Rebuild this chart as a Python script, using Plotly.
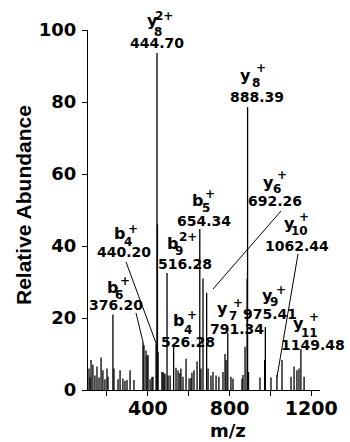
import plotly.graph_objects as go

# ---------------- data ----------------
mz = [112, 117, 122, 131, 141, 151, 161, 171, 180, 190, 200, 205, 229, 234, 254, 264, 278, 288,
      298, 313, 332, 376.2, 381, 391, 396, 401, 411, 420, 425, 440.2, 444.7, 447, 450,
      469, 474, 479, 484, 494, 499, 509, 526.28, 538, 548, 557, 562, 572, 587, 602, 611,
      616, 626, 641, 654.34, 660, 670, 688, 695, 709, 719, 734, 748, 768, 778, 783,
      791.34, 807, 817, 861, 866, 876, 886, 888.39, 893, 949, 972, 975.41, 1003, 1032,
      1057, 1101, 1116, 1130, 1140, 1149.48, 1165]
intensity = [6, 3.5, 8.3, 7, 4, 6.5, 3.5, 9, 5.5, 3, 6, 3.7, 21, 6, 3, 5.5, 3.2, 2.5,
             2.8, 5.5, 2.8, 13.3, 12.5, 11, 9.5, 9.7, 3, 3.6, 3.7, 13, 93.6, 46, 10.6,
             5, 5, 4.6, 4.5, 32.5, 4, 4, 12.5, 6.2, 5.4, 4.7, 6, 3.7, 8.7, 3.2, 3.3,
             4.8, 5.5, 8, 44.7, 6, 31, 27, 6, 4, 5, 4, 3.7, 5, 10, 8.3,
             15.8, 3.7, 3.2, 3.2, 4.2, 12, 31, 78.6, 5, 3.5, 8.3, 17.5, 3.5, 4.2,
             8.3, 3.7, 6.5, 5.5, 6, 11.4, 3.7]

label_ion = ["y", "y", "b", "b", "b", "y", "y", "y", "y", "y", "b", "b"]
label_sub = ["8", "8", "4", "5", "9", "6", "10", "7", "9", "11", "4", "6"]
label_sup = ["2+", "+", "+", "+", "2+", "+", "+", "+", "+", "+", "+", "+"]
label_mass = ["444.70", "888.39", "440.20", "654.34", "516.28", "692.26", "1062.44",
              "791.34", "975.41", "1149.48", "526.28", "376.20"]

x_tickvals = [200, 400, 600, 800, 1000, 1200]
x_ticktext = ["", "400", "", "800", "", "1200"]
y_tickvals = [0, 20, 40, 60, 80, 100]
y_ticktext = ["0", "20", "40", "60", "80", "100"]

# ---------------- layout / style ----------------
L, T, W, H = 88, 30, 232, 360
FIG_W, FIG_H = 350, 442
FONT = "DejaVu Sans"

# label placement (pixel centres in the figure)
pos_letter = [(152, 20), (245, 75), (119, 233), (197, 200), (172, 243), (268, 182),
              (289, 223), (222, 308), (267, 295), (298, 323), (178, 320), (112, 287)]
pos_sup = [(164, 16), (261, 68), (133, 229), (210, 194), (188, 237), (282, 175),
           (304, 217), (238, 303), (281, 290), (314, 317), (192, 315), (125, 281)]
pos_sub = [(158, 32), (256, 83), (128, 242), (206, 208), (179, 251), (277, 189),
           (299, 231), (233, 316), (274, 302), (309, 333), (188, 330), (119, 295)]
pos_mass = [(157, 43), (257, 97), (124, 252), (204, 221), (185, 264), (275, 201),
            (297, 246), (237, 329), (270, 314), (313, 345), (188, 342), (116, 305)]
leaders = [(126, 262, 156, 343), (281, 211, 213, 289), (298, 254, 277, 377), (136, 313, 143, 342)]


def paper(px, py):
    return (px - L) / W, (T + H - py) / H


xs, ys = [], []
for m, h in zip(mz, intensity):
    xs += [m, m, None]
    ys += [0, h, None]

fig = go.Figure()
fig.add_trace(go.Scatter(x=xs, y=ys, mode="lines", line=dict(color="black", width=1.3),
                         hoverinfo="skip", showlegend=False))

annotations = []


def add_text(text, p, size):
    x, y = paper(*p)
    annotations.append(dict(text=text, x=x, y=y, xref="paper", yref="paper",
                            xanchor="center", yanchor="middle", showarrow=False,
                            font=dict(family=FONT, size=size, color="black", weight="bold")))


for i in range(len(label_ion)):
    add_text(label_ion[i], pos_letter[i], 16)
    add_text(label_sup[i], pos_sup[i], 12)
    add_text(label_sub[i], pos_sub[i], 12)
    add_text(label_mass[i], pos_mass[i], 14)

# axis titles
xt, yt = paper(228, 430)
annotations.append(dict(text="m/z", x=xt, y=yt, xref="paper", yref="paper", showarrow=False,
                        xanchor="center", yanchor="middle",
                        font=dict(family=FONT, size=18, color="black", weight="bold")))
xt, yt = paper(23, 205)
annotations.append(dict(text="Relative Abundance", x=xt, y=yt, xref="paper", yref="paper",
                        showarrow=False, textangle=-90, xanchor="center", yanchor="middle",
                        font=dict(family="Liberation Sans", size=21, color="black", weight="bold")))

shapes = []
for (x0, y0, x1, y1) in leaders:
    a0, b0 = paper(x0, y0)
    a1, b1 = paper(x1, y1)
    shapes.append(dict(type="line", xref="paper", yref="paper", x0=a0, y0=b0, x1=a1, y1=b1,
                       line=dict(color="black", width=1)))

fig.update_layout(
    width=FIG_W, height=FIG_H,
    margin=dict(l=L, r=FIG_W - L - W, t=T, b=FIG_H - T - H, pad=0),
    paper_bgcolor="white", plot_bgcolor="white",
    annotations=annotations, shapes=shapes,
    xaxis=dict(range=[107, 1243], tickvals=x_tickvals, ticktext=x_ticktext,
               showgrid=False, zeroline=False, showline=True, linecolor="black", linewidth=1,
               ticks="outside", ticklen=5, tickcolor="black", tickwidth=1,
               ticklabelstandoff=-4,
               tickfont=dict(family=FONT, size=19, color="black", weight="bold")),
    yaxis=dict(range=[0, 100], tickvals=y_tickvals, ticktext=y_ticktext,
               showgrid=False, zeroline=False, showline=True, linecolor="black", linewidth=1,
               ticks="outside", ticklen=5, tickcolor="black", tickwidth=1,
               ticklabelstandoff=2,
               tickfont=dict(family=FONT, size=18, color="black", weight="bold")),
)

fig.write_html("out.html")
